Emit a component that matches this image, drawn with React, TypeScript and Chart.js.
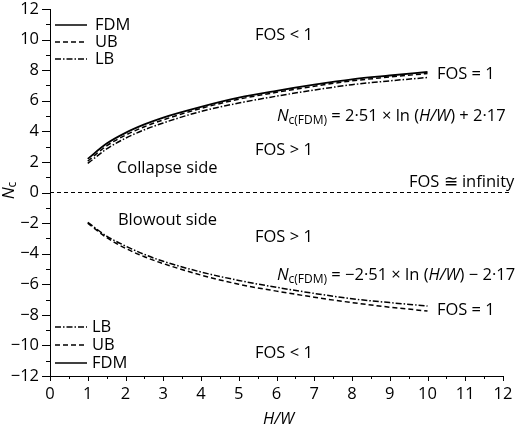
import React, { useEffect, useRef } from "react";
import { Chart, registerables } from "chart.js";

Chart.register(...registerables);

// H/W sample positions
const HW = [1, 1.5, 2, 2.5, 3, 4, 5, 6, 7, 8, 9, 10];
// Collapse side (positive Nc)
const FDM_COLLAPSE = [2.2, 3.2, 3.9, 4.45, 4.9, 5.6, 6.2, 6.65, 7.05, 7.4, 7.65, 7.88];
const UB_COLLAPSE = [2.05, 3.05, 3.75, 4.3, 4.75, 5.5, 6.1, 6.55, 6.95, 7.3, 7.55, 7.78];
const LB_COLLAPSE = [1.9, 2.85, 3.55, 4.1, 4.55, 5.3, 5.85, 6.3, 6.7, 7.05, 7.3, 7.52];
// Blowout side (negative Nc)
const UB_BLOWOUT = [-2.0, -2.95, -3.65, -4.2, -4.65, -5.4, -6.0, -6.45, -6.85, -7.2, -7.5, -7.75];
const LB_BLOWOUT = [-1.95, -2.85, -3.5, -4.05, -4.5, -5.2, -5.75, -6.2, -6.6, -6.95, -7.2, -7.42];
// FOS ≅ infinity reference line
const ZERO_X = [0, 12.2];
const ZERO_Y = [0, 0];

const FONT = '"Open Sans", "Noto Sans", sans-serif';
const FS = 16.5;
const DASH_UB = [5, 3];
const DASH_LB = [6, 2, 1.5, 2];

const pts = (xs: number[], ys: number[]) => xs.map((x, i) => ({ x, y: ys[i] }));

type Run = { t: string; italic?: boolean; sub?: boolean };

function drawRuns(ctx: CanvasRenderingContext2D, runs: Run[], x: number, y: number, size: number) {
  let cx = x;
  for (const r of runs) {
    const sz = r.sub ? Math.round(size * 0.72) : size;
    ctx.font = `${r.italic ? "italic " : ""}${sz}px ${FONT}`;
    ctx.fillText(r.t, cx, y + (r.sub ? size * 0.3 : 0));
    cx += ctx.measureText(r.t).width;
  }
}

const overlay = {
  id: "overlay",
  afterDraw(chart: any) {
    const ctx: CanvasRenderingContext2D = chart.ctx;
    const xs = chart.scales.x;
    const ys = chart.scales.y;
    const area = chart.chartArea;
    ctx.save();
    ctx.strokeStyle = "#000";
    ctx.fillStyle = "#000";
    ctx.lineWidth = 1;
    ctx.setLineDash([]);
    // tick marks
    for (let v = 0; v <= 12; v += 0.5) {
      const px = Math.round(xs.getPixelForValue(v)) + 0.5;
      const len = Number.isInteger(v) ? 5 : 3;
      ctx.beginPath();
      ctx.moveTo(px, area.bottom);
      ctx.lineTo(px, area.bottom + len);
      ctx.stroke();
    }
    for (let v = -12; v <= 12; v += 1) {
      const py = Math.round(ys.getPixelForValue(v)) + 0.5;
      const len = v % 2 === 0 ? 8 : 4;
      ctx.beginPath();
      ctx.moveTo(area.left, py);
      ctx.lineTo(area.left - len, py);
      ctx.stroke();
    }

    const X = (v: number) => xs.getPixelForValue(v);
    const Y = (v: number) => ys.getPixelForValue(v);
    ctx.textBaseline = "middle";
    ctx.textAlign = "left";
    const label = (t: string, x: number, y: number, align: CanvasTextAlign = "left") => {
      ctx.textAlign = align;
      ctx.font = `${FS}px ${FONT}`;
      ctx.fillText(t, X(x), Y(y));
      ctx.textAlign = "left";
    };
    label("FOS < 1", 5.43, 10.3);
    label("FOS = 1", 10.25, 7.75);
    label("FOS > 1", 5.43, 2.78);
    label("Collapse side", 1.77, 1.6);
    label("FOS \u2245 infinity", 12.3, 0.65, "right");
    label("Blowout side", 1.8, -1.8);
    label("FOS > 1", 5.43, -2.91);
    label("FOS = 1", 10.25, -7.68);
    label("FOS < 1", 5.43, -10.5);

    drawRuns(
      ctx,
      [
        { t: "N", italic: true },
        { t: "c(FDM)", sub: true },
        { t: " = 2\u00b751 \u00d7 ln (" },
        { t: "H/W", italic: true },
        { t: ") + 2\u00b717" },
      ],
      X(6.01),
      Y(5.0),
      FS
    );
    drawRuns(
      ctx,
      [
        { t: "N", italic: true },
        { t: "c(FDM)", sub: true },
        { t: " = \u22122\u00b751 \u00d7 ln (" },
        { t: "H/W", italic: true },
        { t: ") \u2212 2\u00b717" },
      ],
      X(6.01),
      Y(-5.4),
      FS
    );

    // legends
    const legendRow = (y: number, dash: number[], text: string, tx: number) => {
      ctx.setLineDash(dash);
      ctx.lineWidth = 1.5;
      ctx.beginPath();
      ctx.moveTo(55, y);
      ctx.lineTo(87, y);
      ctx.stroke();
      ctx.setLineDash([]);
      ctx.font = `${FS}px ${FONT}`;
      ctx.fillText(text, tx, y);
    };
    legendRow(25, [], "FDM", 95);
    legendRow(42, DASH_UB, "UB", 95);
    legendRow(59, DASH_LB, "LB", 95);
    legendRow(327, DASH_LB, "LB", 92);
    legendRow(345, DASH_UB, "UB", 92);
    legendRow(363, [], "FDM", 92);

    // axis titles
    ctx.textAlign = "center";
    ctx.font = `italic ${FS}px ${FONT}`;
    ctx.fillText("H/W", (area.left + area.right) / 2 + 2, 419);
    ctx.save();
    ctx.translate(9, Y(0) - 2);
    ctx.rotate(-Math.PI / 2);
    ctx.textAlign = "left";
    ctx.font = `italic 17px ${FONT}`;
    const nW = ctx.measureText("N").width;
    ctx.font = `12px ${FONT}`;
    const cW = ctx.measureText("c").width;
    const start = -(nW + cW) / 2;
    ctx.font = `italic 17px ${FONT}`;
    ctx.fillText("N", start, 0);
    ctx.font = `12px ${FONT}`;
    ctx.fillText("c", start + nW, 4);
    ctx.restore();
    ctx.restore();
  },
};

export default function App() {
  const ref = useRef<HTMLCanvasElement | null>(null);
  useEffect(() => {
    document.body.style.margin = "0";
    if (!ref.current) return;
    const line = (data: any[], dash: number[], width = 1.5) => ({
      data,
      borderColor: "#000",
      borderWidth: width,
      borderDash: dash,
      pointRadius: 0,
      fill: false,
      cubicInterpolationMode: "monotone" as const,
    });
    const chart = new Chart(ref.current, {
      type: "line",
      data: {
        datasets: [
          { ...line(pts(ZERO_X, ZERO_Y), [4, 3], 1), clip: false } as any,
          line(pts(HW, LB_COLLAPSE), DASH_LB),
          line(pts(HW, UB_COLLAPSE), DASH_UB),
          line(pts(HW, FDM_COLLAPSE), [], 1.8),
          line(pts(HW, LB_BLOWOUT), DASH_LB),
          line(pts(HW, UB_BLOWOUT), DASH_UB),
        ],
      },
      options: {
        animation: false,
        responsive: false,
        devicePixelRatio: 1,
        layout: { padding: { top: 9, right: 17, left: 0, bottom: 0 } },
        plugins: { legend: { display: false }, tooltip: { enabled: false } },
        scales: {
          x: {
            type: "linear",
            min: 0,
            max: 12,
            grid: { display: false, drawTicks: false },
            border: { display: true, color: "#000", width: 1 },
            ticks: {
              stepSize: 1,
              color: "#000",
              font: { size: FS, family: FONT },
              padding: 8,
              maxRotation: 0,
              autoSkip: false,
            },
            afterFit: (s: any) => {
              s.height = 54;
              s.paddingLeft = 0;
              s.paddingRight = 0;
            },
          },
          y: {
            type: "linear",
            min: -12,
            max: 12,
            grid: { display: false, drawTicks: false },
            border: { display: true, color: "#000", width: 1 },
            ticks: {
              stepSize: 2,
              color: "#000",
              font: { size: FS, family: FONT },
              padding: 11,
              callback: (v: any) => (v < 0 ? "\u2212" + Math.abs(v) : String(v)),
            },
            afterFit: (s: any) => {
              s.width = 50;
              s.paddingTop = 0;
              s.paddingBottom = 0;
            },
          },
        },
      },
      plugins: [overlay],
    });
    return () => chart.destroy();
  }, []);
  return (
    <div style={{ width: 520, height: 430, background: "#fff" }}>
      <canvas ref={ref} width={520} height={430} />
    </div>
  );
}
